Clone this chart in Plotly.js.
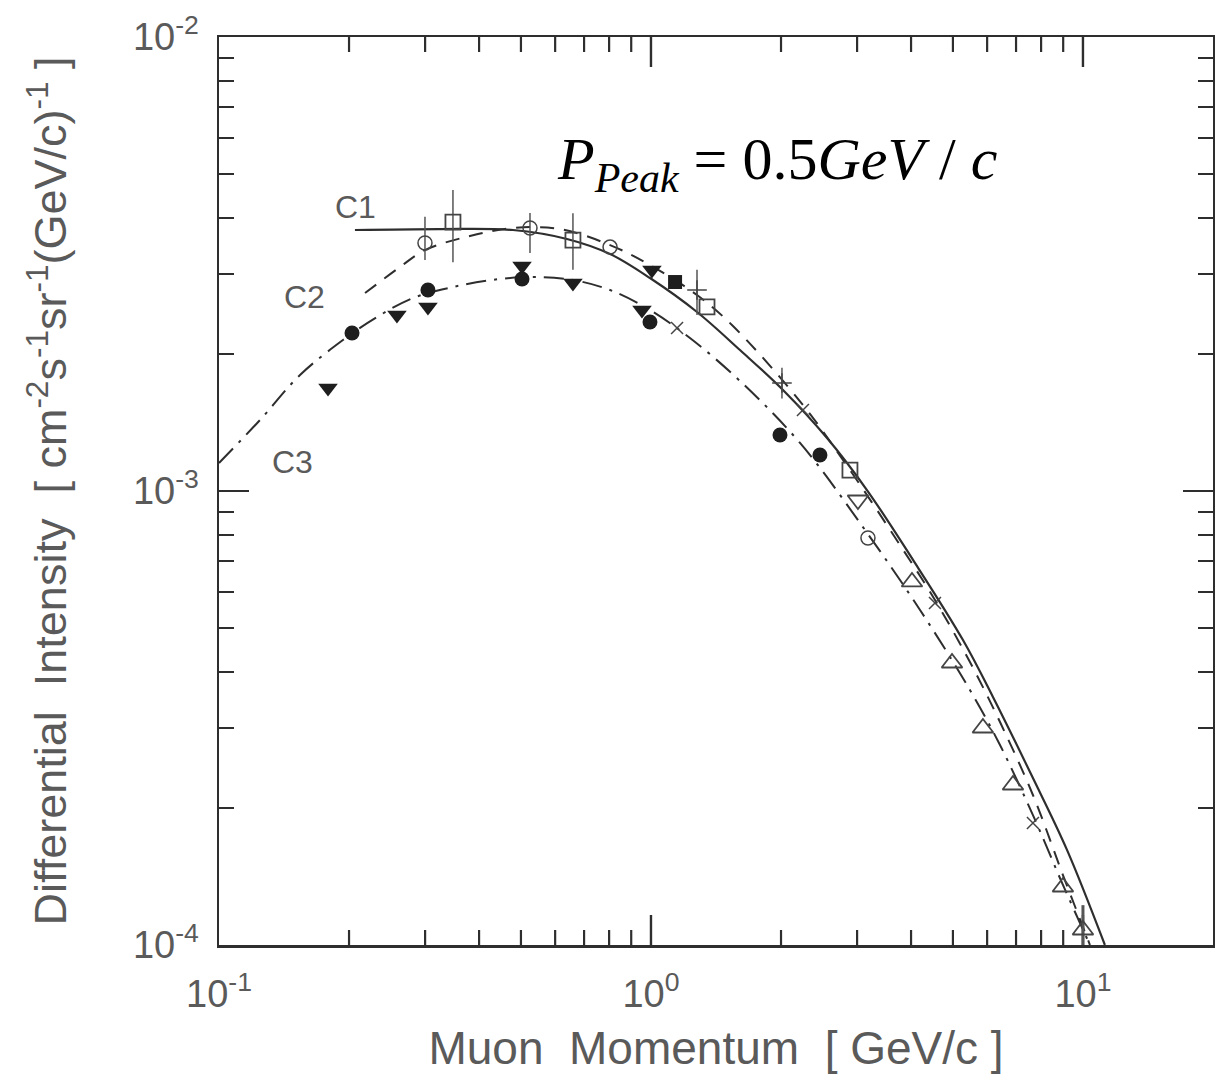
<!DOCTYPE html>
<html>
<head>
<meta charset="utf-8">
<script src="https://cdn.plot.ly/plotly-3.0.1.min.js"></script>
<style>html,body{margin:0;padding:0;background:#fff;}</style>
</head>
<body>
<div id="chart" style="width:1215px;height:1076px;"></div>
<script>
// ---- fitted curves (momentum GeV/c, intensity) ----
const c1X = [0.2064,0.3248,0.4792,0.639,0.804,0.9947,1.278,1.607,2.021,2.556,3.162,4.042,5.275,6.189,7.659,9.184,11.24];
const c1Y = [3.757e-3,3.776e-3,3.757e-3,3.590e-3,3.326e-3,2.945e-3,2.479e-3,2.044e-3,1.669e-3,1.308e-3,1.005e-3,7.05e-4,4.696e-4,3.518e-4,2.332e-4,1.620e-4,1.0e-4];

const c2X = [0.2178,0.2624,0.2998,0.3811,0.4792,0.6157,0.804,0.9947,1.278,1.548,2.248,2.888,3.771,4.544,5.475,6.426,7.659,8.988,10.38];
const c2Y = [2.729e-3,3.114e-3,3.394e-3,3.645e-3,3.795e-3,3.776e-3,3.481e-3,3.146e-3,2.702e-3,2.309e-3,1.547e-3,1.112e-3,7.603e-4,5.752e-4,4.200e-4,3.098e-4,2.140e-4,1.426e-4,1.0e-4];

const c3X = [0.1,0.1244,0.154,0.1936,0.2321,0.2812,0.348,0.4472,0.5389,0.6597,0.804,0.9947,1.231,1.607,2.213,3.095,4.196,5.475,6.426,7.659,8.988,10.38];
const c3Y = [1.153e-3,1.433e-3,1.801e-3,2.150e-3,2.416e-3,2.661e-3,2.814e-3,2.931e-3,2.960e-3,2.916e-3,2.771e-3,2.504e-3,2.173e-3,1.747e-3,1.276e-3,8.329e-4,5.469e-4,3.645e-4,2.757e-4,1.933e-4,1.356e-4,1.0e-4];

// ---- measurements ----
const openCircleX = [0.2998,0.5247,0.804,3.179];
const openCircleY = [3.518e-3,3.795e-3,3.446e-3,7.878e-4];
const openCircleErrUp = [0.50e-3,0.30e-3,0,0];
const openCircleErrDn = [0.29e-3,0.45e-3,0,0];

const openSquareX = [0.348,0.6597,1.348,2.888];
const openSquareY = [3.912e-3,3.571e-3,2.543e-3,1.112e-3];
const openSquareErrUp = [0.69e-3,0.52e-3,0,0];
const openSquareErrDn = [0.72e-3,0.50e-3,0,0];

const plusX = [1.278,2.010];
const plusY = [2.771e-3,1.729e-3];
const plusErrUp = [0.30e-3,0.14e-3];
const plusErrDn = [0.33e-3,0.13e-3];

const crossX = [1.149,2.248,4.544,7.659];
const crossY = [2.286e-3,1.508e-3,5.665e-4,1.856e-4];

const filledTriDownX = [0.1788,0.2582,0.3046,0.5029,0.6597,1.005,0.9532];
const filledTriDownY = [1.686e-3,2.441e-3,2.543e-3,3.130e-3,2.871e-3,3.067e-3,2.504e-3];

const filledCircleX = [0.2032,0.3046,0.5029,0.9947,1.989,2.461];
const filledCircleY = [2.228e-3,2.771e-3,2.931e-3,2.357e-3,1.328e-3,1.200e-3];

const filledSquareX = [1.137];
const filledSquareY = [2.886e-3];

const openTriUpX = [4.020,4.976,5.867,6.887,8.988,10.0];
const openTriUpY = [6.304e-4,4.180e-4,3.006e-4,2.251e-4,1.342e-4,1.079e-4];
const openTriUpErrUp = [0,0,0,0,0,0.145e-4];
const openTriUpErrDn = [0,0,0,0,0,0.079e-4];

const openTriDownX = [3.014];
const openTriDownY = [9.554e-4];

// ---- ticks ----
const xTickVals = [0.1,1,10];
const xTickText = ['10<sup>-1</sup>','10<sup>0</sup>','10<sup>1</sup>'];
const xMinorVals = [0.2,0.3,0.4,0.5,0.6,0.7,0.8,0.9,2,3,4,5,6,7,8,9];
const yTickVals = [1e-4,1e-3,1e-2];
const yTickText = ['10<sup>-4</sup>','10<sup>-3</sup>','10<sup>-2</sup>'];
const yMinorVals = [2e-4,3e-4,4e-4,5e-4,6e-4,7e-4,8e-4,9e-4,2e-3,3e-3,4e-3,5e-3,6e-3,7e-3,8e-3,9e-3];

const lineCol = '#2e2e2e';
const txtCol = '#5a5a5a';
const mk = '#1e1e1e';
const sans = 'Liberation Sans, Arial, sans-serif';
const xRange = [-1, Math.log10(20)];
const yRange = [-4, -2];
const plotHeightPx = 1076 - 37 - 131;
const majorLen = 30, minorLen = 15;

function errs(up, dn, th) {
  return {type:'data', symmetric:false, array:up, arrayminus:dn, color:'#555', thickness:th||1.5, width:0, visible:true};
}

// x-axis tick marks (inside, bottom and top) built from the tick arrays through the axis scales
function xTickMarks(vals, lenPx) {
  const f = Math.pow(10, (yRange[1] - yRange[0]) * lenPx / plotHeightPx);
  const lo = Math.pow(10, yRange[0]), hi = Math.pow(10, yRange[1]);
  const xs = [], ys = [];
  vals.forEach(function(v) {
    xs.push(v, v, null, v, v, null);
    ys.push(lo, lo * f, null, hi, hi / f, null);
  });
  return {x:xs, y:ys};
}
const majorMarks = xTickMarks(xTickVals.slice(1), majorLen);
const minorMarks = xTickMarks(xMinorVals, minorLen);

const traces = [
  {x:majorMarks.x, y:majorMarks.y, mode:'lines', connectgaps:false, hoverinfo:'skip', line:{color:lineCol, width:2.4}},
  {x:minorMarks.x, y:minorMarks.y, mode:'lines', connectgaps:false, hoverinfo:'skip', line:{color:lineCol, width:2.2}},
  {x:c1X, y:c1Y, mode:'lines', line:{color:lineCol, width:2.2, shape:'spline', smoothing:1}},
  {x:c2X, y:c2Y, mode:'lines', line:{color:lineCol, width:2, dash:'14px,10px', shape:'spline', smoothing:1}},
  {x:c3X, y:c3Y, mode:'lines', line:{color:lineCol, width:2, dash:'20px,8px,3px,8px', shape:'spline', smoothing:1}},
  {x:openCircleX, y:openCircleY, mode:'markers', error_y:errs(openCircleErrUp, openCircleErrDn),
   marker:{symbol:'circle-open', size:14, color:'#444', line:{width:1.5}}},
  {x:openSquareX, y:openSquareY, mode:'markers', error_y:errs(openSquareErrUp, openSquareErrDn),
   marker:{symbol:'square-open', size:15, color:'#444', line:{width:1.8}}},
  {x:plusX, y:plusY, mode:'markers', error_y:errs(plusErrUp, plusErrDn),
   marker:{symbol:'cross-thin-open', size:14, color:'#444', line:{width:1.5, color:'#444'}}},
  {x:crossX, y:crossY, mode:'markers',
   marker:{symbol:'x-thin-open', size:12, color:'#444', line:{width:1.5, color:'#444'}}},
  {x:filledTriDownX, y:filledTriDownY, mode:'markers',
   marker:{symbol:'triangle-down', size:17, color:mk, line:{width:0}}},
  {x:filledCircleX, y:filledCircleY, mode:'markers',
   marker:{symbol:'circle', size:15, color:mk, line:{width:0}}},
  {x:filledSquareX, y:filledSquareY, mode:'markers',
   marker:{symbol:'square', size:14, color:mk, line:{width:0}}},
  {x:openTriUpX, y:openTriUpY, mode:'markers', error_y:errs(openTriUpErrUp, openTriUpErrDn, 3),
   marker:{symbol:'triangle-up-open', size:18, color:'#444', line:{width:1.8}}},
  {x:openTriDownX, y:openTriDownY, mode:'markers',
   marker:{symbol:'triangle-down-open', size:18, color:'#444', line:{width:1.8}}}
];

const layout = {
  width:1215, height:1076,
  margin:{l:219, r:2, t:37, b:131, pad:0},
  paper_bgcolor:'#fff', plot_bgcolor:'#fff',
  showlegend:false,
  xaxis:{
    type:'log', range:xRange, showgrid:false, zeroline:false, showline:true, mirror:true,
    linecolor:lineCol, linewidth:2.5, ticks:'', tickmode:'array',
    tickvals:xTickVals, ticktext:xTickText, ticklabelstandoff:14,
    tickfont:{family:sans, size:38, color:txtCol},
    title:{text:'Muon  Momentum  [ GeV/c ]', standoff:18, font:{family:sans, size:46, color:txtCol}}
  },
  yaxis:{
    type:'log', range:yRange, showgrid:false, zeroline:false, showline:true, mirror:'allticks',
    linecolor:lineCol, linewidth:2.5, ticks:'inside', ticklen:majorLen, tickwidth:2.2, tickcolor:lineCol,
    tickmode:'array', tickvals:yTickVals, ticktext:yTickText, ticklabelstandoff:10,
    tickfont:{family:sans, size:38, color:txtCol},
    minor:{tickmode:'array', tickvals:yMinorVals, ticks:'inside', ticklen:minorLen, tickwidth:2, tickcolor:lineCol, showgrid:false},
    title:{text:'Differential  Intensity  [ cm<sup>-2</sup>s<sup>-1</sup>sr<sup>-1</sup>(GeV/c)<sup>-1</sup> ]', standoff:52,
      font:{family:sans, size:45, color:txtCol}}
  },
  annotations:[
    {xref:'x', yref:'y', x:-0.685, y:-2.374, text:'C1', showarrow:false,
     font:{family:sans, size:32, color:txtCol}},
    {xref:'x', yref:'y', x:-0.801, y:-2.573, text:'C2', showarrow:false,
     font:{family:sans, size:32, color:txtCol}},
    {xref:'x', yref:'y', x:-0.831, y:-2.936, text:'C3', showarrow:false,
     font:{family:sans, size:32, color:txtCol}},
    {xref:'paper', yref:'paper', x:0.338, y:0.861, xanchor:'left', yanchor:'middle', showarrow:false,
     text:'<i>P</i><sub><i>Peak</i></sub> = 0.5<i>GeV</i> / <i>c</i>',
     font:{family:'Liberation Serif, Times New Roman, serif', size:60, color:'#000'}}
  ]
};

Plotly.newPlot('chart', traces, layout, {staticPlot:true, displayModeBar:false});
</script>
</body>
</html>
